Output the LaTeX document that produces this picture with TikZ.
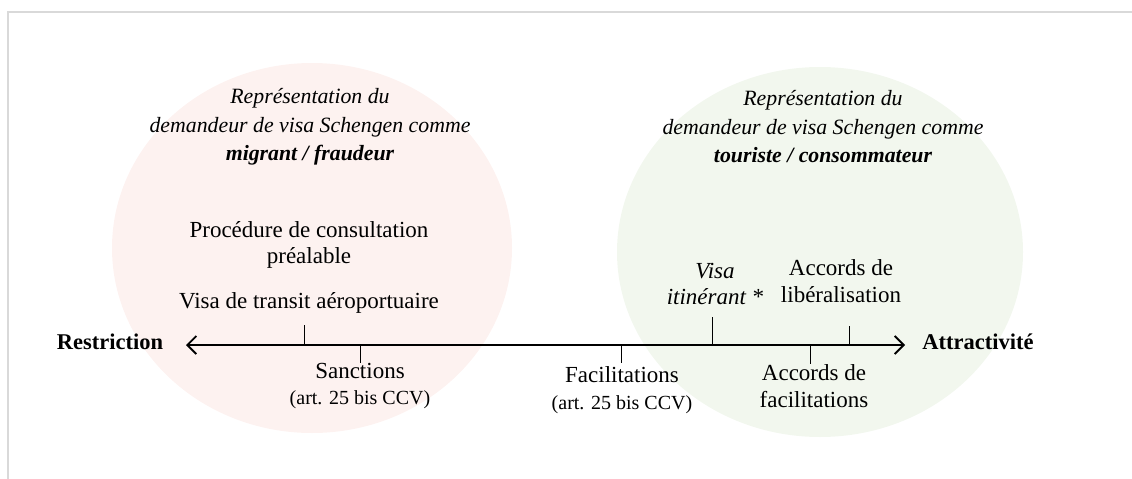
\documentclass[tikz,border=0pt]{standalone}
\usepackage{fontspec}
\setmainfont{Liberation Serif}
\usetikzlibrary{arrows.meta}
\definecolor{pinkbg}{RGB}{253,242,240}
\definecolor{greenbg}{RGB}{242,247,238}
\definecolor{framegray}{RGB}{217,217,217}
\begin{document}
\begin{tikzpicture}[x=1pt,y=-1pt,
  lbl/.style={inner sep=0pt,align=center,font=\fontsize{23}{26.5}\selectfont},
  hdr/.style={inner sep=0pt,align=center,font=\fontsize{21.8}{28.5}\selectfont\itshape},
  pole/.style={inner sep=0pt,font=\fontsize{22.5}{26}\selectfont\bfseries},
  tick/.style={line width=1pt,black},
  axis/.style={line width=1.8pt,{Straight Barb[length=9pt,width=18pt,line width=1.8pt]}-{Straight Barb[length=9pt,width=18pt,line width=1.8pt]}}]
\useasboundingbox (0,0) rectangle (1132,479);
% frame
\draw[framegray,line width=2pt] (1132,12) -- (8,12) -- (8,479);
% ellipses
\fill[pinkbg] (312,248) ellipse [x radius=200,y radius=185];
\fill[greenbg] (820,252) ellipse [x radius=203,y radius=185];
% headers
\node[hdr] (hl) at (310,127) {Représentation du\\demandeur de visa Schengen comme\\\textbf{migrant / fraudeur}};
\node[hdr] (hr) at (823,127) {Représentation du\\demandeur de visa Schengen comme\\\textbf{touriste / consommateur}};
% poles
\node[pole] (res) at (110,342) {Restriction};
\node[pole] (att) at (978,342) {Attractivité};
% axis
\coordinate (a1) at (186,345);
\coordinate (a2) at (905,345);
\draw[axis] (a1) -- (a2);
% labels
\node[lbl] (proc) at (309,245) {Procédure de consultation\\préalable};
\node[lbl] (vta) at (309,303) {Visa de transit aéroportuaire};
\node[lbl] (sanc) at (360,386) {Sanctions\\{\fontsize{20}{26}\selectfont(art. 25 bis CCV)}};
\node[lbl] (fac) at (622,390) {Facilitations\\{\fontsize{20}{26}\selectfont(art. 25 bis CCV)}};
\node[lbl] (vit) at (715,284) {\itshape Visa\\\itshape itinérant *};
\node[lbl] (alib) at (841,281) {Accords de\\libéralisation};
\node[lbl] (afac) at (814,386) {Accords de\\facilitations};
% ticks
\coordinate (t1) at (304,345); \draw[tick] (t1) -- ++(0,-20);
\coordinate (t2) at (360,345); \draw[tick] (t2) -- ++(0,18);
\coordinate (t3) at (621,345); \draw[tick] (t3) -- ++(0,18);
\coordinate (t4) at (712,345); \draw[tick] (t4) -- ++(0,-28);
\coordinate (t5) at (849,345); \draw[tick] (t5) -- ++(0,-19);
\coordinate (t6) at (810,345); \draw[tick] (t6) -- ++(0,19);
\end{tikzpicture}
\end{document}
